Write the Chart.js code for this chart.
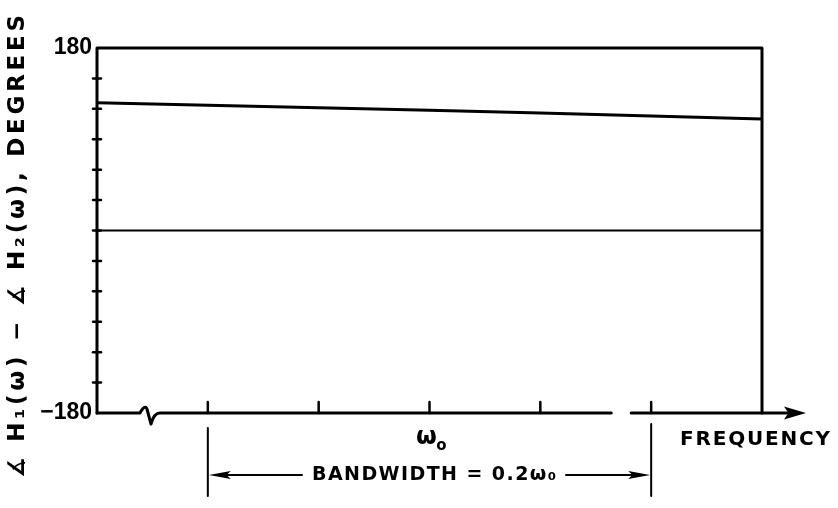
<!DOCTYPE html>
<html><head><meta charset="utf-8">
<script src="https://cdn.jsdelivr.net/npm/chart.js@4"></script>
<style>html,body{margin:0;padding:0;background:#fff;} canvas{display:block;}</style>
</head><body>
<canvas id="c" width="838" height="508"></canvas>
<script>
// ---- data (frequency in units of ω0, phase in degrees) ----
const frequency = [0.85, 0.90, 0.95, 1.00, 1.05, 1.10, 1.15];
const phaseDifference = [126, 123.5, 121, 118.5, 116, 113, 110];
const referenceLine = [0, 0, 0, 0, 0, 0, 0];
const yTickValues = [-150, -120, -90, -60, -30, 0, 30, 60, 90, 120, 150];
const yTickLabels = ['−180', '180'];
const xTickValues = [0.90, 0.95, 1.00, 1.05, 1.10];
const xTickLabels = ['ω', 'o'];
const xLabelAt = [1.00];
const bandwidthEdges = [0.90, 1.10];
const axisBreakAt = [0.873];
const axisGap = [1.082, 1.091];
const yTitle = '∡ H₁(ω) − ∡ H₂(ω), DEGREES';
const xTitle = 'FREQUENCY';
const bandwidthLabel = 'BANDWIDTH = 0.2ω₀';

const ink = '#000';
const LABEL_FONT = '"DejaVu Sans", "Liberation Sans", sans-serif';

function fitText(ctx, text, xLeft, y, width, font) {
  ctx.save();
  ctx.font = font;
  ctx.textAlign = 'left';
  ctx.textBaseline = 'middle';
  const hasLS = ('letterSpacing' in ctx);
  if (hasLS) ctx.letterSpacing = '0px';
  const w0 = ctx.measureText(text).width;
  const n = [...text].length;
  if (hasLS && n > 1) {
    const ls = (width - w0) / (n - 1);
    ctx.letterSpacing = ls.toFixed(2) + 'px';
    ctx.fillText(text, xLeft, y);
  } else {
    ctx.translate(xLeft, y);
    ctx.scale(width / w0, 1);
    ctx.fillText(text, 0, 0);
  }
  ctx.restore();
}

function arrowHead(ctx, tipX, tipY, dir, len, half) {
  ctx.beginPath();
  ctx.moveTo(tipX, tipY);
  ctx.lineTo(tipX - dir * len, tipY - half);
  ctx.lineTo(tipX - dir * len * 0.8, tipY);
  ctx.lineTo(tipX - dir * len, tipY + half);
  ctx.closePath();
  ctx.fill();
}

const decor = {
  id: 'decor',
  afterDatasetsDraw(chart) {
    const {ctx, chartArea: a, scales: {x, y}} = chart;
    ctx.save();
    ctx.strokeStyle = ink;
    ctx.fillStyle = ink;
    ctx.lineCap = 'round';
    ctx.lineJoin = 'round';

    // box: left, top, right
    ctx.lineWidth = 3;
    ctx.beginPath();
    ctx.moveTo(a.left, a.bottom);
    ctx.lineTo(a.left, a.top);
    ctx.lineTo(a.right, a.top);
    ctx.lineTo(a.right, a.bottom);
    ctx.stroke();

    // y tick marks crossing the axis
    ctx.lineWidth = 2.5;
    yTickValues.forEach(v => {
      const py = y.getPixelForValue(v);
      ctx.beginPath();
      ctx.moveTo(a.left - 4, py);
      ctx.lineTo(a.left + 4, py);
      ctx.stroke();
    });

    // x axis with break, gap and arrow
    const by = a.bottom;
    const bx = x.getPixelForValue(axisBreakAt[0]);
    const g0 = x.getPixelForValue(axisGap[0]);
    const g1 = x.getPixelForValue(axisGap[1]);
    const tipX = 806;
    ctx.lineWidth = 3;
    ctx.beginPath();
    ctx.moveTo(a.left, by);
    ctx.lineTo(bx - 8, by);
    ctx.quadraticCurveTo(bx - 3, by - 9, bx - 1, by - 4);
    ctx.lineTo(bx + 3, by + 11);
    ctx.quadraticCurveTo(bx + 6, by, bx + 12, by);
    ctx.lineTo(g0, by);
    ctx.moveTo(g1, by);
    ctx.lineTo(tipX - 16, by);
    ctx.stroke();
    arrowHead(ctx, tipX, by, 1, 22, 6.5);

    // x tick marks
    ctx.lineWidth = 2.5;
    xTickValues.forEach(v => {
      const px = x.getPixelForValue(v);
      ctx.beginPath();
      ctx.moveTo(px, by);
      ctx.lineTo(px, by - 11);
      ctx.stroke();
    });

    // ω0 label under its tick
    const wx = x.getPixelForValue(xLabelAt[0]);
    ctx.textBaseline = 'alphabetic';
    ctx.textAlign = 'center';
    ctx.font = 'bold 24px ' + LABEL_FONT;
    ctx.fillText(xTickLabels[0], wx - 3, by + 31);
    ctx.font = 'bold 15px ' + LABEL_FONT;
    ctx.fillText(xTickLabels[1], wx + 12, by + 37);

    // bandwidth bracket
    const bl = x.getPixelForValue(bandwidthEdges[0]);
    const br = x.getPixelForValue(bandwidthEdges[1]);
    const ay = 475;
    ctx.lineWidth = 2;
    ctx.beginPath();
    ctx.moveTo(bl, 428); ctx.lineTo(bl, 496);
    ctx.moveTo(br, 424); ctx.lineTo(br, 496);
    ctx.moveTo(bl + 12, ay); ctx.lineTo(302, ay);
    ctx.moveTo(566, ay); ctx.lineTo(br - 12, ay);
    ctx.stroke();
    arrowHead(ctx, bl + 1, ay, -1, 22, 4);
    arrowHead(ctx, br - 1, ay, 1, 22, 4);

    // texts
    fitText(ctx, bandwidthLabel, 312, ay, 244, 'bold 19px ' + LABEL_FONT);
    fitText(ctx, xTitle, 680, 440, 150, 'bold 20px ' + LABEL_FONT);

    ctx.save();
    ctx.translate(18, 246.5);
    ctx.rotate(-Math.PI / 2);
    fitText(ctx, yTitle, -231.5, 0, 463, 'bold 23px ' + LABEL_FONT);
    ctx.restore();

    ctx.restore();
  }
};

const toPoints = arr => frequency.map((f, i) => ({x: f, y: arr[i]}));

new Chart(document.getElementById('c'), {
  type: 'line',
  data: {
    datasets: [
      {data: toPoints(phaseDifference), borderColor: ink, borderWidth: 3, pointRadius: 0, tension: 0, fill: false},
      {data: toPoints(referenceLine), borderColor: ink, borderWidth: 2, pointRadius: 0, tension: 0, fill: false}
    ]
  },
  options: {
    responsive: false,
    animation: false,
    devicePixelRatio: 1,
    layout: {padding: {left: 0, top: 48, right: 76, bottom: 95}},
    plugins: {legend: {display: false}, tooltip: {enabled: false}, title: {display: false}},
    events: [],
    scales: {
      x: {
        type: 'linear', min: 0.85, max: 1.15,
        border: {display: false},
        grid: {display: false, drawTicks: false},
        ticks: {display: false, stepSize: 0.05},
        afterFit: s => { s.height = 0; }
      },
      y: {
        min: -180, max: 180,
        border: {display: false},
        grid: {display: false, drawTicks: false},
        ticks: {
          stepSize: 30, autoSkip: false, padding: 5, color: ink,
          font: {family: '"Liberation Sans Narrow", "Liberation Sans", sans-serif', weight: 'bold', size: 23},
          callback: v => v === -180 ? yTickLabels[0] : (v === 180 ? yTickLabels[1] : '')
        },
        afterFit: s => { s.width = 97; }
      }
    }
  },
  plugins: [decor]
});
</script>
</body></html>
